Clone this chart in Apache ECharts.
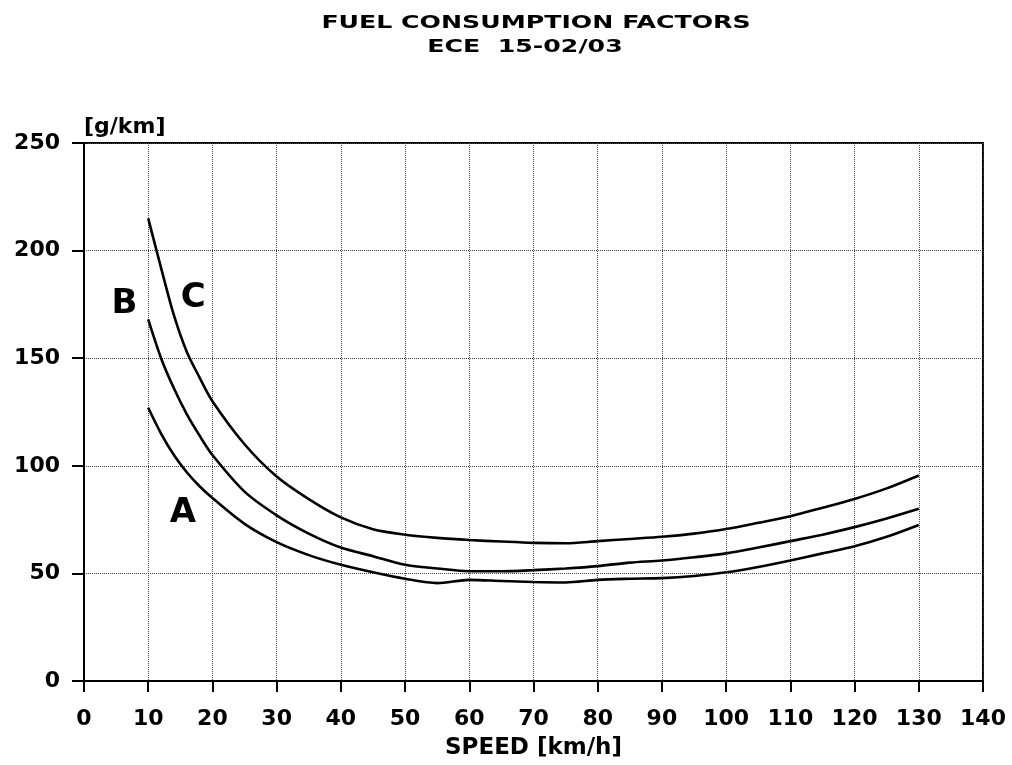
<!DOCTYPE html>
<html>
<head>
<meta charset="utf-8">
<title>Fuel consumption factors</title>
<script src="https://cdn.jsdelivr.net/npm/echarts@6/dist/echarts.min.js"></script>
<style>
  html, body { margin: 0; padding: 0; background: #fff; }
  #chart { width: 1012px; height: 765px; }
</style>
</head>
<body>
<div id="chart"></div>
<script>
// speed [km/h] and fuel consumption [g/km]
const speeds = [10, 12, 14, 16, 18, 20, 25, 30, 35, 40, 45, 50, 55, 60, 65, 70, 75, 80, 85, 90, 95, 100, 105, 110, 115, 120, 125, 130];
const curveA = [127, 115, 105, 97, 90.5, 85, 73, 64.5, 58.5, 54, 50.5, 47.5, 45.5, 47, 46.5, 46, 45.8, 47, 47.5, 47.8, 48.8, 50.5, 53, 56, 59.3, 62.6, 67, 72.5];
const curveB = [168, 150, 136, 124, 114, 105, 88, 77, 68.5, 62, 58, 54, 52.3, 51, 51, 51.5, 52.3, 53.4, 55, 56, 57.5, 59.3, 62, 65, 68, 71.5, 75.5, 80];
const curveC = [215, 192, 170, 153, 141, 130, 110, 95, 84.5, 76, 70.5, 68, 66.5, 65.5, 64.8, 64.2, 64, 65, 66, 67, 68.5, 70.6, 73.5, 76.6, 80.5, 84.6, 89.5, 95.5];

// curve letters and where they sit (speed, g/km)
const letterNames = ['A', 'B', 'C'];
const letterSpeed = [15.4, 6.3, 17];
const letterValue = [78, 175, 178];

const titleLines = ['FUEL CONSUMPTION FACTORS', 'ECE  15-02/03'];

const FONT = '"DejaVu Sans", sans-serif';

const chart = echarts.init(document.getElementById('chart'));

function curve(name, values) {
  return {
    name: name,
    type: 'line',
    smooth: 0.3,
    symbol: 'none',
    data: speeds.map((s, i) => [s, values[i]]),
    lineStyle: { color: '#000', width: 2.6 },
    silent: true,
    z: 5
  };
}

const option = {
  backgroundColor: '#fff',
  animation: false,
  graphic: [
    {
      type: 'text', x: 536, y: 23, scaleX: 1.4,
      style: { text: titleLines[0], font: 'bold 18px ' + FONT, fill: '#000', align: 'center', verticalAlign: 'middle' }
    },
    {
      type: 'text', x: 525, y: 47, scaleX: 1.4,
      style: { text: titleLines[1], font: 'bold 18px ' + FONT, fill: '#000', align: 'center', verticalAlign: 'middle' }
    }
  ],
  grid: {
    left: 84, right: 29, top: 143, bottom: 84,
    show: true, borderColor: '#000', borderWidth: 2
  },
  xAxis: {
    type: 'value',
    min: 0, max: 140, interval: 10,
    name: 'SPEED [km/h]',
    nameLocation: 'middle',
    nameGap: 56,
    nameTextStyle: { fontFamily: FONT, fontWeight: 'bold', fontSize: 23, color: '#000' },
    axisLine: { lineStyle: { color: '#000', width: 2 } },
    axisTick: { show: true, length: 11, lineStyle: { color: '#000', width: 2 } },
    axisLabel: { margin: 27, fontFamily: FONT, fontWeight: 'bold', fontSize: 22, color: '#000' },
    splitLine: { show: true, lineStyle: { color: '#444', width: 1, type: 'dotted' } }
  },
  yAxis: {
    type: 'value',
    min: 0, max: 250, interval: 50,
    name: '[g/km]',
    nameLocation: 'end',
    nameGap: 5,
    nameTextStyle: { fontFamily: FONT, fontWeight: 'bold', fontSize: 22, color: '#000', align: 'left' },
    axisLine: { lineStyle: { color: '#000', width: 2 } },
    axisTick: { show: true, length: 12, lineStyle: { color: '#000', width: 2 } },
    axisLabel: { margin: 24, fontFamily: FONT, fontWeight: 'bold', fontSize: 22, color: '#000' },
    splitLine: { show: true, lineStyle: { color: '#444', width: 1, type: 'dotted' } }
  },
  series: [
    curve('A', curveA),
    curve('B', curveB),
    curve('C', curveC),
    {
      type: 'scatter',
      symbolSize: 0,
      silent: true,
      itemStyle: { opacity: 1 },
      data: letterNames.map((n, i) => ({ name: n, value: [letterSpeed[i], letterValue[i]] })),
      label: {
        show: true,
        position: 'inside',
        formatter: '{b}',
        fontFamily: FONT,
        fontWeight: 'bold',
        fontSize: 34,
        color: '#000',
        opacity: 1
      },
      z: 6
    }
  ]
};

chart.setOption(option);
</script>
</body>
</html>
